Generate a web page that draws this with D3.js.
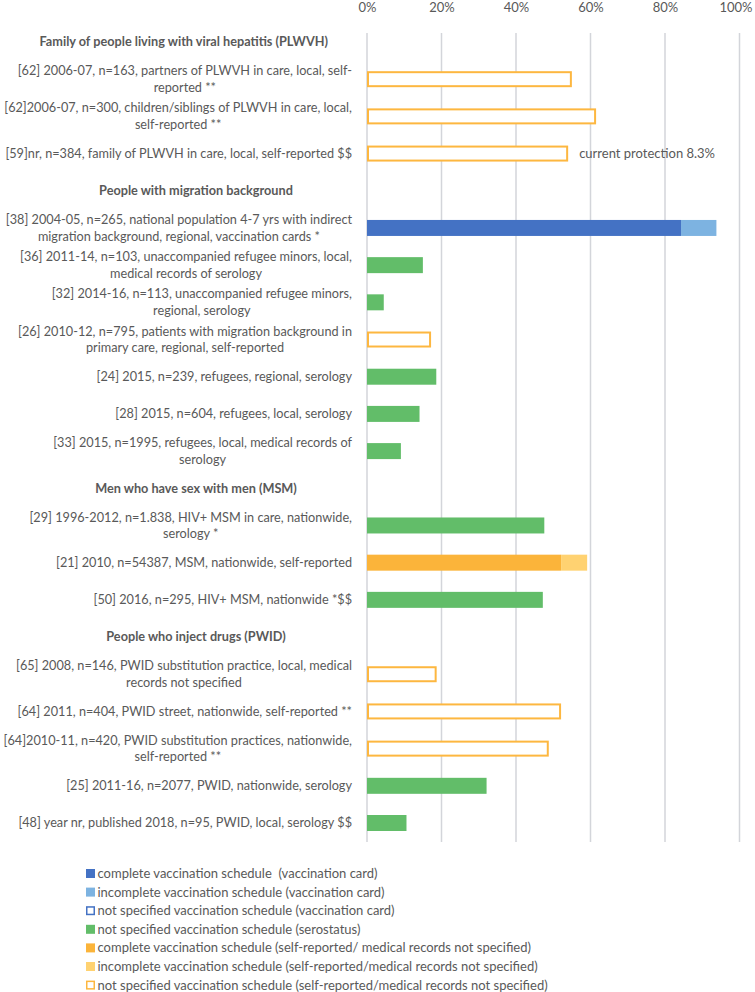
<!DOCTYPE html>
<html><head><meta charset="utf-8">
<script src="https://cdn.jsdelivr.net/npm/d3@7/dist/d3.min.js"></script>
<style>
html,body{margin:0;padding:0;background:#fff;}
svg{display:block;font-family:Lato,"Open Sans",sans-serif;}
</style></head>
<body><svg id="chart" width="755" height="992"></svg>
<script>
// ---------- data ----------
const groups = [
  "Family of people living with viral hepatitis (PLWVH)",
  "People with migration background",
  "Men who have sex with men (MSM)",
  "People who inject drugs (PWID)"
];
const studyLabels = [
  "[62] 2006-07, n=163, partners of PLWVH in care, local, self-\nreported **",
  "[62]2006-07, n=300, children/siblings of PLWVH in care, local,\nself-reported **",
  "[59]nr, n=384, family of PLWVH in care, local, self-reported $$",
  "[38] 2004-05, n=265, national population 4-7 yrs with indirect\nmigration background, regional, vaccination cards *",
  "[36] 2011-14, n=103, unaccompanied refugee minors, local,\nmedical records of serology",
  "[32] 2014-16, n=113, unaccompanied refugee minors,\nregional, serology",
  "[26] 2010-12, n=795, patients with migration background in\nprimary care, regional, self-reported",
  "[24] 2015, n=239, refugees, regional, serology",
  "[28] 2015, n=604, refugees, local, serology",
  "[33] 2015, n=1995, refugees, local, medical records of\nserology",
  "[29] 1996-2012, n=1.838, HIV+ MSM in care, nationwide,\nserology *",
  "[21] 2010, n=54387, MSM, nationwide, self-reported",
  "[50] 2016, n=295, HIV+ MSM, nationwide *$$",
  "[65] 2008, n=146, PWID substitution practice, local, medical\nrecords not specified",
  "[64] 2011, n=404, PWID street, nationwide, self-reported **",
  "[64]2010-11, n=420, PWID substitution practices, nationwide,\nself-reported **",
  "[25] 2011-16, n=2077, PWID, nationwide, serology",
  "[48] year nr, published 2018, n=95, PWID, local, serology $$"
];
const studyGroup = [0,0,0,1,1,1,1,1,1,1,2,2,2,3,3,3,3,3];

const seriesNames = [
  "complete vaccination schedule  (vaccination card)",
  "incomplete vaccination schedule (vaccination card)",
  "not specified vaccination schedule (vaccination card)",
  "not specified vaccination schedule (serostatus)",
  "complete vaccination schedule (self-reported/ medical records not specified)",
  "incomplete vaccination schedule (self-reported/medical records not specified)",
  "not specified vaccination schedule (self-reported/medical records not specified)"
];
const completeCard   = [0,0,0,84.3,0,0,0,0,0,0,0,0,0,0,0,0,0,0];
const incompleteCard = [0,0,0,9.5,0,0,0,0,0,0,0,0,0,0,0,0,0,0];
const notSpecCard    = [0,0,0,0,0,0,0,0,0,0,0,0,0,0,0,0,0,0];
const serostatus     = [0,0,0,0,15.0,4.5,0,18.6,14.1,9.1,47.6,0,47.2,0,0,0,32.1,10.6];
const completeSelf   = [0,0,0,0,0,0,0,0,0,0,0,52.1,0,0,0,0,0,0];
const incompleteSelf = [0,0,0,0,0,0,0,0,0,0,0,7.0,0,0,0,0,0,0];
const notSpecSelf    = [55.0,61.5,54.0,0,0,0,17.2,0,0,0,0,0,0,18.7,52.1,48.8,0,0];

const xTicks = [0,20,40,60,80,100];
const tickLabels = ["0%","20%","40%","60%","80%","100%"];
const annotation = {study: 2, text: "current protection 8.3%"};

// ---------- styles ----------
const seriesStyle = [
  {fill:"#4472C4", stroke:null},
  {fill:"#7DB3E1", stroke:null},
  {fill:"none", stroke:"#4472C4"},
  {fill:"#62BD69", stroke:null},
  {fill:"#FBB43A", stroke:null},
  {fill:"#FFD271", stroke:null},
  {fill:"none", stroke:"#FDB740"}
];
const textColor = "#595959";
const gridColor = "#D3D5DA";
const labelFont = 12.7;

// ---------- rows ----------
const rows = [];
groups.forEach((g, gi) => {
  rows.push({id: "h" + gi, header: true, label: g});
  studyGroup.forEach((sg, si) => { if (sg === gi) rows.push({id: "s" + si, header: false, label: studyLabels[si], study: si}); });
});

const seriesArrays = [completeCard, incompleteCard, notSpecCard, serostatus, completeSelf, incompleteSelf, notSpecSelf];
const table = studyLabels.map((l, i) => {
  const o = {id: "s" + i};
  seriesArrays.forEach((arr, k) => o["k" + k] = arr[i]);
  return o;
});
const keys = seriesArrays.map((a, k) => "k" + k);
const stacked = d3.stack().keys(keys)(table);

// ---------- scales ----------
const svg = d3.select("#chart");
const x = d3.scaleLinear().domain([0, 100]).range([367, 739.5]);
const y = d3.scaleBand().domain(rows.map(r => r.id)).range([23.4, 841.6]).paddingInner(0.57).paddingOuter(0.285);
const gridTop = 33, gridBottom = 842;

// axis labels
const xAxis = d3.axisTop(x).tickValues(xTicks).tickFormat((d, i) => tickLabels[i]).tickSize(0).tickPadding(0);
const gAx = svg.append("g").attr("transform", "translate(0,13)").call(xAxis);
gAx.select(".domain").remove();
gAx.selectAll("text").attr("fill", textColor).attr("font-size", 13).attr("font-family", "Lato")
  .attr("dy", "0.32em").attr("y", -5)
  .attr("x", d => d === 100 ? -4 : 0);

// gridlines
svg.append("g").selectAll("line").data(xTicks).join("line")
  .attr("x1", d => x(d)).attr("x2", d => x(d))
  .attr("y1", gridTop).attr("y2", gridBottom)
  .attr("stroke", gridColor).attr("stroke-width", 1.5);

// bars
const bh = y.bandwidth();
stacked.forEach((layer, k) => {
  const st = seriesStyle[k];
  const data = layer.filter(d => d[1] - d[0] > 0);
  const g = svg.append("g");
  if (st.stroke) {
    g.selectAll("rect").data(data).join("rect")
      .attr("x", d => x(d[0]) + 1).attr("y", d => y(d.data.id) + 1)
      .attr("width", d => x(d[1]) - x(d[0]) - 2).attr("height", bh - 2)
      .attr("fill", "#fff").attr("stroke", st.stroke).attr("stroke-width", 2);
  } else {
    g.selectAll("rect").data(data).join("rect")
      .attr("x", d => x(d[0])).attr("y", d => y(d.data.id))
      .attr("width", d => x(d[1]) - x(d[0])).attr("height", bh)
      .attr("fill", st.fill);
  }
});

// annotation
{
  const sid = "s" + annotation.study;
  const tot = d3.sum(seriesArrays, a => a[annotation.study]);
  svg.append("text").attr("x", x(tot) + 11).attr("y", y(sid) + bh / 2).attr("dy", "0.35em")
    .attr("fill", textColor).attr("font-size", 13).text(annotation.text);
}

// category labels
const rightEdge = 352;
const lineH = 16.8;
rows.forEach(r => {
  const cy = y(r.id) + bh / 2;
  if (r.header) {
    const t = svg.append("text").attr("y", cy).attr("dy", "0.35em")
      .attr("text-anchor", "middle").attr("font-weight", "bold").attr("font-size", labelFont)
      .attr("fill", textColor).text(r.label);
    const w = t.node().getComputedTextLength();
    t.attr("x", w > 250 ? 328 - w / 2 : 196);
  } else {
    const lines = r.label.split("\n");
    const ts = lines.map((ln, i) => svg.append("text")
      .attr("y", cy + (i - (lines.length - 1) / 2) * lineH).attr("dy", "0.35em")
      .attr("text-anchor", "middle").attr("font-size", labelFont).attr("fill", textColor).text(ln));
    const w = d3.max(ts, t => t.node().getComputedTextLength());
    ts.forEach(t => t.attr("x", rightEdge - w / 2));
  }
});

// legend
const lg = svg.append("g");
seriesNames.forEach((name, k) => {
  const st = seriesStyle[k];
  const ly = 873.5 + k * 18.6;
  if (st.stroke) {
    lg.append("rect").attr("x", 86.75).attr("y", ly - 3.75).attr("width", 7.5).attr("height", 7.5)
      .attr("fill", "#fff").attr("stroke", st.stroke).attr("stroke-width", 1.5);
  } else {
    lg.append("rect").attr("x", 86).attr("y", ly - 4.5).attr("width", 9).attr("height", 9).attr("fill", st.fill);
  }
  lg.append("text").attr("x", 97.5).attr("y", ly).attr("dy", "0.35em").attr("font-size", 13)
    .attr("fill", textColor).attr("xml:space", "preserve").style("white-space", "pre").text(name);
});
</script></body></html>
